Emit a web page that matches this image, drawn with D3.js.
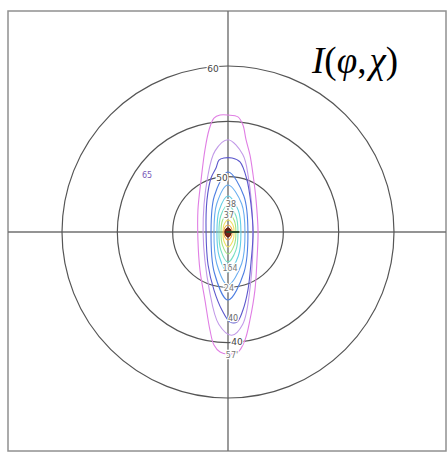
<!DOCTYPE html>
<html>
<head>
<meta charset="utf-8">
<script src="https://cdn.jsdelivr.net/npm/d3@7"></script>
<style>
  body { margin: 0; background: #fff; }
  svg { display: block; }
</style>
</head>
<body>
<div id="chart"></div>
<script>
// Polfigur I(phi, chi) - konturer lest av bildet (enheter: grader i projeksjonen, ytre sirkel = 90)
const rings = [30, 60, 90];

const levelNames = ["magenta", "violet", "blueviolet", "blue", "lightblue", "cyan", "aqua", "green", "yellow", "orange", "red"];
const levelColors = ["#e07ee4", "#c29ae8", "#5c58cc", "#5080e2", "#6aaef0", "#64cfe6", "#78e0c4", "#a6e482", "#f0e064", "#f0a848", "#d84a30"];

const contourMagenta = [[0, 63.4], [5.4, 62.4], [8.1, 58], [9.8, 49.9], [11.9, 41.8], [13.6, 30.9], [15.2, 17.4], [16.3, 0], [15.7, -15.2], [14.6, -31.5], [11.9, -47.7], [9.2, -58.6], [5.4, -65.1], [0, -66.2], [-4.3, -65.1], [-7.6, -61.3], [-9.8, -53.1], [-12.5, -36.9], [-15.2, -20.6], [-16.3, -4.3], [-16.3, 11.9], [-14.6, 28.2], [-12.5, 44.5], [-10.3, 55.3], [-7.6, 61.8], [-4.3, 63.4]];
const contourViolet = [[0, 50], [8, 42], [11, 30], [13.5, 0], [12, -30], [8, -50], [2, -56], [-5, -50], [-10, -32], [-13.5, 0], [-11, 30], [-7, 44]];
const contourBlueViolet = [[-2.2, 40.1], [2.2, 40.1], [6.5, 38], [10.3, 28.2], [12.5, 14.6], [13.6, 0], [12.5, -16.3], [10.8, -31.5], [8.1, -42.3], [4.9, -48.8], [1.1, -48.8], [-3.3, -42.3], [-7.6, -31.5], [-10.8, -17.9], [-11.9, 0], [-11.4, 17.4], [-9.2, 29.3], [-6.5, 34.7], [-4.9, 39]];
const contourBlue = [[0, 32.5], [8.6, 19.5], [10.8, 0], [8.6, -22.1], [0, -36.9], [-7.4, -22.1], [-9.2, 0], [-7.4, 19.5]];
const contourLightBlue = [[0, 25.5], [7.4, 15.3], [9.2, 0], [7.4, -17.2], [0, -28.7], [-6.1, -17.2], [-7.6, 0], [-6.1, 15.3]];
const contourCyan = [[0, 19.5], [5.6, 11.7], [7.0, 0], [5.6, -13], [0, -21.7], [-4.8, -13], [-6.0, 0], [-4.8, 11.7]];
const contourAqua = [[0, 14.6], [4.3, 8.8], [5.4, 0], [4.3, -9.8], [0, -16.3], [-3.9, -9.8], [-4.9, 0], [-3.9, 8.8]];
const contourGreen = [[0, 10.3], [3.4, 6.2], [4.3, 0], [3.4, -7.1], [0, -11.9], [-3, -7.1], [-3.8, 0], [-3, 6.2]];
const contourYellow = [[0, 6.5], [2.6, 3.9], [3.3, 0], [2.6, -4.9], [0, -8.1], [-2.2, -4.9], [-2.7, 0], [-2.2, 3.9]];
const contourOrange = [[0, 3.8], [1.8, 2.3], [2.2, 0], [1.8, -2.6], [0, -4.3], [-1.8, -2.6], [-2.2, 0], [-1.8, 2.3]];
const contourRed = [[0, 2.2], [1.3, 1.3], [1.6, 0], [1.3, -1.6], [0, -2.7], [-1.3, -1.6], [-1.6, 0], [-1.3, 1.3]];
const contourIsland = [[-45.5, 31.5], [-43, 32.5], [-41.5, 31], [-42.5, 29.2], [-45, 29.5]];

const contours = [contourMagenta, contourViolet, contourBlueViolet, contourBlue, contourLightBlue, contourCyan, contourAqua, contourGreen, contourYellow, contourOrange, contourRed];

// Konturetiketter: [x, y, tekst]
const labelText = ["60", "50", "40", "57'", "65", "40", "1δ4", "24", "38", "37"];
const labelPos = [[-8.1, 88.5], [-3.3, 29.3], [4.9, -59.6], [2.2, -66.7], [-43.9, 30.9], [2.7, -46.5], [1.1, -19.5], [0.5, -30.4], [1.6, 15.2], [0.5, 9.2]];
const labelColor = ["#444", "#444", "#444", "#777", "#7a58b8", "#666", "#777", "#777", "#666", "#666"];

const W = 448, H = 452;
const frame = { x0: 8, y0: 11, x1: 446, y1: 451 };
const cx = 228, cy = 232, R = 166;

const svg = d3.select("#chart").append("svg")
    .attr("width", W)
    .attr("height", H);

const x = d3.scaleLinear().domain([-90, 90]).range([cx - R, cx + R]);
const y = d3.scaleLinear().domain([-90, 90]).range([cy + R, cy - R]);
const r = d3.scaleLinear().domain([0, 90]).range([0, R]);

// Ramme
svg.append("rect")
    .attr("x", frame.x0).attr("y", frame.y0)
    .attr("width", frame.x1 - frame.x0).attr("height", frame.y1 - frame.y0)
    .attr("fill", "none")
    .attr("stroke", "#909090")
    .attr("stroke-width", 1.5);

// Kryss
svg.append("line")
    .attr("x1", frame.x0).attr("x2", frame.x1)
    .attr("y1", y(0)).attr("y2", y(0))
    .attr("stroke", "#707070").attr("stroke-width", 1.4);
svg.append("line")
    .attr("x1", x(0)).attr("x2", x(0))
    .attr("y1", frame.y0).attr("y2", frame.y1)
    .attr("stroke", "#707070").attr("stroke-width", 1.4);

// Sirkler for chi = 30, 60, 90
svg.selectAll(".ring")
    .data(rings)
    .enter().append("circle")
    .attr("class", "ring")
    .attr("cx", x(0)).attr("cy", y(0))
    .attr("r", d => r(d))
    .attr("fill", "none")
    .attr("stroke", "#555")
    .attr("stroke-width", 1.2);

// Konturer
const line = d3.line()
    .x(d => x(d[0]))
    .y(d => y(d[1]))
    .curve(d3.curveCatmullRomClosed.alpha(0.5));

svg.selectAll(".contour")
    .data(contours)
    .enter().append("path")
    .attr("class", "contour")
    .attr("d", line)
    .attr("fill", "none")
    .attr("stroke", (d, i) => levelColors[i])
    .attr("stroke-width", 1.1);

svg.append("path")
    .attr("d", line(contourIsland))
    .attr("fill", "none")
    .attr("stroke", "#9a70d0")
    .attr("stroke-width", 1);

// Sentrum (maks)
svg.append("path")
    .attr("d", line(contourRed))
    .attr("fill", "#7a1e14")
    .attr("stroke", "#3a1a10")
    .attr("stroke-width", 1);
svg.append("line")
    .attr("x1", x(-1)).attr("x2", x(6))
    .attr("y1", y(0)).attr("y2", y(0))
    .attr("stroke", "#2a4a2a").attr("stroke-width", 2);

// Etiketter
svg.selectAll(".clabel")
    .data(labelText)
    .enter().append("text")
    .attr("class", "clabel")
    .attr("x", (d, i) => x(labelPos[i][0]))
    .attr("y", (d, i) => y(labelPos[i][1]))
    .attr("dy", "0.35em")
    .attr("text-anchor", "middle")
    .attr("font-family", "DejaVu Sans, sans-serif")
    .attr("font-size", (d, i) => i < 3 ? 9 : 8)
    .attr("fill", (d, i) => labelColor[i])
    .attr("stroke", "#fff")
    .attr("stroke-width", 2.5)
    .attr("paint-order", "stroke")
    .text(d => d);

// Tittel
const title = svg.append("text")
    .attr("x", 312)
    .attr("y", 73)
    .attr("font-family", "Liberation Serif, Times New Roman, serif")
    .attr("font-size", 37)
    .attr("fill", "#000");
title.append("tspan").attr("font-style", "italic").text("I");
title.append("tspan").text("(");
title.append("tspan").attr("font-style", "italic").text("φ");
title.append("tspan").text(",");
title.append("tspan").attr("font-style", "italic").attr("dx", 3).text("χ");
title.append("tspan").text(")");
</script>
</body>
</html>
